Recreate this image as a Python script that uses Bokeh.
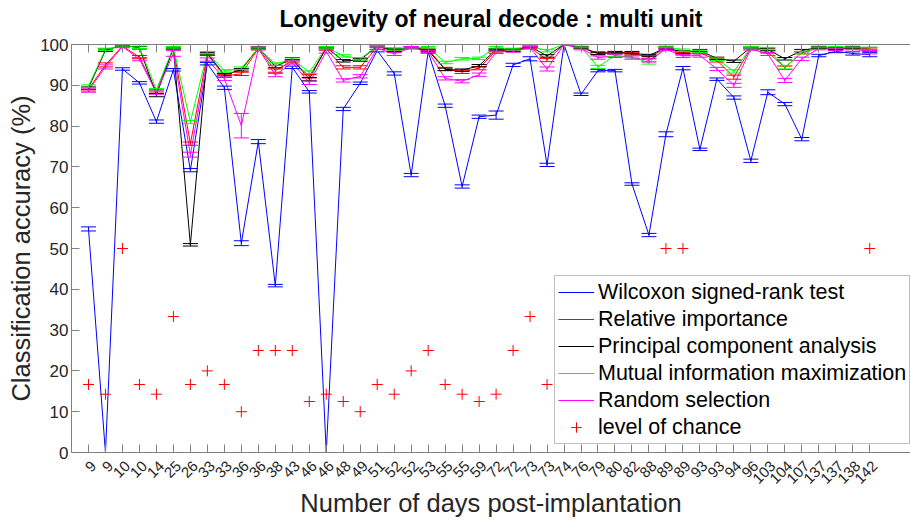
import numpy as np
from bokeh.plotting import figure
from bokeh.models import (Range1d, FixedTicker, LinearAxis, Whisker, TeeHead,
                          ColumnDataSource, Legend, LegendItem)
from bokeh.embed import file_html
from bokeh.resources import INLINE

days = ["9", "9", "10", "10", "14", "25", "26", "33", "33", "36", "36", "38", "43",
        "46", "46", "48", "49", "51", "52", "52", "53", "55", "55", "59", "72", "72",
        "73", "73", "74", "76", "79", "80", "82", "88", "89", "89", "93", "93", "94",
        "96", "103", "104", "107", "137", "137", "138", "142"]

wilcoxon = [54.8, 0.0, 94.0, 90.6, 81.1, 93.8, 69.2, 95.3, 89.4, 51.3, 76.2, 40.9,
            94.4, 88.4, 0.0, 84.2, 90.5, 98.5, 92.9, 68.0, 98.2, 85.0, 65.2, 82.3,
            82.7, 95.0, 96.5, 70.5, 100.0, 87.8, 93.6, 93.6, 65.8, 53.3, 78.0, 94.2,
            74.3, 91.5, 87.0, 71.5, 88.3, 85.4, 76.8, 97.3, 98.3, 97.8, 97.5]
wilcoxon_err = [0.5, 0.0, 0.3, 0.3, 0.4, 0.3, 0.4, 0.3, 0.4, 0.6, 0.5, 0.3, 0.3,
                0.3, 0.0, 0.4, 0.3, 0.3, 0.4, 0.4, 0.3, 0.4, 0.4, 0.4, 1.0, 0.4,
                0.5, 0.4, 0.0, 0.3, 0.3, 0.3, 0.3, 0.4, 0.6, 0.4, 0.3, 0.3, 0.4,
                0.4, 0.6, 0.4, 0.4, 0.3, 0.3, 0.4, 0.5]

relative = [89.0, 95.0, 99.6, 96.9, 88.5, 99.1, 75.7, 97.6, 92.3, 92.8, 99.0, 93.6,
            96.0, 92.2, 98.9, 94.4, 94.4, 99.5, 98.4, 99.2, 98.8, 94.0, 93.3, 94.2,
            98.5, 98.6, 99.3, 96.2, 100.0, 99.3, 97.9, 98.0, 97.7, 96.9, 99.1, 97.7,
            98.0, 96.1, 92.0, 99.2, 98.2, 94.3, 98.0, 99.3, 98.8, 99.2, 98.6]
relative_err = [0.4, 0.5, 0.2, 0.4, 0.4, 0.3, 0.4, 0.3, 0.4, 0.4, 0.3, 0.4, 0.3,
                0.4, 0.3, 0.4, 0.4, 0.2, 0.3, 0.2, 0.3, 0.4, 0.4, 0.4, 0.3, 0.3,
                0.2, 0.4, 0.0, 0.2, 0.3, 0.3, 0.3, 0.4, 0.3, 0.3, 0.3, 0.4, 0.5,
                0.3, 0.3, 0.4, 0.3, 0.2, 0.3, 0.2, 0.3]

pca = [89.3, 98.6, 99.8, 99.2, 87.6, 99.2, 50.9, 97.8, 92.6, 93.8, 99.2, 94.6,
       96.5, 91.5, 99.3, 96.0, 96.2, 99.6, 98.6, 99.3, 98.5, 93.9, 93.7, 94.8,
       98.8, 98.6, 99.5, 97.2, 100.0, 99.3, 97.8, 98.0, 98.0, 97.3, 99.2, 98.1,
       98.5, 96.6, 95.9, 99.3, 98.8, 96.5, 98.5, 99.3, 99.0, 99.3, 99.0]
pca_err = [0.3, 0.3, 0.2, 0.3, 0.4, 0.2, 0.3, 0.3, 0.3, 0.3, 0.2, 0.3, 0.3, 0.4,
           0.2, 0.3, 0.3, 0.2, 0.3, 0.2, 0.3, 0.3, 0.3, 0.3, 0.2, 0.3, 0.2, 0.3,
           0.0, 0.2, 0.3, 0.3, 0.3, 0.3, 0.2, 0.3, 0.3, 0.3, 0.3, 0.2, 0.3, 0.3,
           0.3, 0.2, 0.2, 0.2, 0.3]

mutual = [89.8, 98.8, 99.8, 99.3, 88.9, 99.3, 81.0, 98.0, 93.5, 94.2, 99.1, 95.2,
          96.4, 93.2, 99.3, 97.2, 96.5, 99.6, 98.9, 99.3, 99.3, 95.6, 96.5, 96.6,
          99.3, 98.8, 99.6, 98.5, 100.0, 99.4, 94.5, 97.3, 97.0, 95.5, 99.4, 98.6,
          98.3, 96.4, 93.4, 99.3, 99.0, 94.4, 98.0, 99.4, 99.3, 99.4, 99.0]
mutual_err = [0.3, 0.3, 0.2, 0.3, 0.3, 0.2, 0.4, 0.3, 0.3, 0.3, 0.2, 0.3, 0.3, 0.3,
              0.2, 0.3, 0.3, 0.2, 0.3, 0.2, 0.2, 0.3, 0.3, 0.3, 0.2, 0.3, 0.2, 0.3,
              0.0, 0.2, 0.4, 0.3, 0.3, 0.3, 0.2, 0.3, 0.3, 0.3, 0.4, 0.2, 0.3, 0.4,
              0.3, 0.2, 0.2, 0.2, 0.3]

random_sel = [88.7, 94.5, 99.5, 96.4, 88.2, 97.8, 73.0, 96.3, 91.6, 80.1, 99.0, 92.5,
              95.6, 90.6, 98.3, 91.2, 92.2, 99.1, 97.7, 99.2, 98.3, 91.7, 91.0, 92.6,
              98.1, 98.4, 99.2, 94.0, 100.0, 99.0, 96.8, 97.2, 96.8, 96.1, 98.8, 97.2,
              97.3, 94.0, 90.0, 98.9, 97.7, 91.2, 96.5, 99.0, 98.8, 99.0, 98.1]
random_err = [0.4, 0.5, 0.3, 0.4, 0.4, 0.7, 0.6, 0.4, 0.4, 3.0, 0.3, 0.4, 0.4, 0.4,
              0.4, 0.4, 0.4, 0.3, 0.4, 0.3, 0.3, 0.4, 0.4, 0.4, 0.3, 0.3, 0.3, 0.5,
              0.0, 0.3, 0.4, 0.4, 0.4, 0.4, 0.3, 0.4, 0.4, 0.4, 0.5, 0.3, 0.4, 0.5,
              0.4, 0.3, 0.3, 0.3, 0.4]

# values hidden behind the legend in the original are left as None
chance = [16.67, 14.29, 50.0, 16.67, 14.29, 33.33, 16.67, 20.0, 16.67, 10.0, 25.0,
          25.0, 25.0, 12.5, 14.29, 12.5, 10.0, 16.67, 14.29, 20.0, 25.0, 16.67,
          14.29, 12.5, 14.29, 25.0, 33.33, 16.67, None, None, None, None, None,
          None, 50.0, 50.0, None, None, None, None, None, None, None, None, None,
          None, 50.0]

y_ticks = [0, 10, 20, 30, 40, 50, 60, 70, 80, 90, 100]

series = [
    ("Wilcoxon signed-rank test", wilcoxon, wilcoxon_err, "#0000ff"),
    ("Relative importance", relative, relative_err, "#ff0000"),
    ("Principal component analysis", pca, pca_err, "#000000"),
    ("Mutual information maximization", mutual, mutual_err, "#00ff00"),
    ("Random selection", random_sel, random_err, "#ff00ff"),
]

FONT = "Liberation Sans"
AX = "#808080"
TXT = "#262626"

x = list(range(1, len(days) + 1))
LABEL_SHIFT = 0.3  # MATLAB places rotated tick labels slightly right of the tick
x_lab = [round(i + LABEL_SHIFT, 2) for i in x]

p = figure(width=910, height=520, output_backend="svg", toolbar_location=None,
           x_range=Range1d(0, 49.4), y_range=Range1d(0, 100),
           min_border_left=71, min_border_right=0, min_border_top=44,
           min_border_bottom=68, x_axis_location=None, y_axis_location=None)
p.outline_line_color = None
p.xgrid.visible = False
p.ygrid.visible = False
p.background_fill_color = "white"
p.border_fill_color = "white"

# bottom axis: ticks only
xticks_axis = LinearAxis(ticker=FixedTicker(ticks=x),
                         major_label_text_color=None, major_label_text_font_size="1px",
                         major_label_standoff=0,
                         major_tick_in=8, major_tick_out=0, minor_tick_line_color=None,
                         axis_line_color=AX, major_tick_line_color=AX)
p.add_layout(xticks_axis, "below")

# bottom labels (rotated day numbers) + x axis title
xlabel_axis = LinearAxis(ticker=FixedTicker(ticks=x_lab),
                         major_label_overrides={k: d for k, d in zip(x_lab, days)},
                         major_label_orientation=np.pi / 4,
                         major_label_text_font=FONT, major_label_text_font_size="15px",
                         major_label_text_color=TXT, major_label_standoff=11,
                         major_tick_in=0, major_tick_out=0, minor_tick_line_color=None,
                         axis_line_color=None, major_tick_line_color=None,
                         axis_label="Number of days post-implantation",
                         axis_label_text_font=FONT, axis_label_text_font_size="25.5px",
                         axis_label_text_font_style="normal", axis_label_text_color=TXT,
                         axis_label_standoff=-2)
p.add_layout(xlabel_axis, "below")

# top axis: ticks, with the chart title as its label
topaxis = LinearAxis(ticker=FixedTicker(ticks=x),
                     major_label_text_color=None, major_label_text_font_size="1px",
                     major_tick_in=8, major_tick_out=0, minor_tick_line_color=None,
                     axis_line_color=AX, major_tick_line_color=AX,
                     major_label_standoff=0,
                     axis_label="Longevity of neural decode : multi unit",
                     axis_label_text_font=FONT, axis_label_text_font_size="23px",
                     axis_label_text_font_style="bold", axis_label_text_color="black",
                     axis_label_standoff=13)
p.add_layout(topaxis, "above")

yaxis = LinearAxis(ticker=FixedTicker(ticks=y_ticks),
                   major_label_text_font=FONT, major_label_text_font_size="17px",
                   major_label_text_color=TXT, major_label_standoff=3,
                   major_tick_in=8, major_tick_out=0, minor_tick_line_color=None,
                   axis_line_color=AX, major_tick_line_color=AX,
                   axis_label="Classification accuracy (%)",
                   axis_label_text_font=FONT, axis_label_text_font_size="25.5px",
                   axis_label_text_font_style="normal", axis_label_text_color=TXT,
                   axis_label_standoff=2)
p.add_layout(yaxis, "left")

items = []
for label, vals, errs, col in series:
    src = ColumnDataSource(dict(x=x, y=vals,
                                lo=[v - e for v, e in zip(vals, errs)],
                                hi=[v + e for v, e in zip(vals, errs)]))
    r = p.line("x", "y", source=src, line_color=col, line_width=1)
    w = Whisker(source=src, base="x", lower="lo", upper="hi", line_color=col,
                line_width=1, level="glyph",
                upper_head=TeeHead(size=15, line_color=col, line_width=1),
                lower_head=TeeHead(size=15, line_color=col, line_width=1))
    p.add_layout(w)
    items.append(LegendItem(label=label, renderers=[r]))

chance_src = ColumnDataSource(dict(x=x, y=np.array(chance, dtype=float)))
rc = p.scatter("x", "y", source=chance_src, marker="cross", size=11,
               line_color="#ff0000", line_width=1)
items.append(LegendItem(label="level of chance", renderers=[rc]))

legend = Legend(items=items, location=(483, 8), margin=0, padding=3, spacing=1,
                label_height=26, glyph_height=26, glyph_width=36, label_standoff=4,
                label_text_font=FONT, label_text_font_size="21.5px",
                label_text_color="black", border_line_color="#7f7f7f",
                border_line_width=1, background_fill_color="white",
                background_fill_alpha=1.0)
p.add_layout(legend, "center")

open("out.html", "w").write(file_html(p, INLINE))
